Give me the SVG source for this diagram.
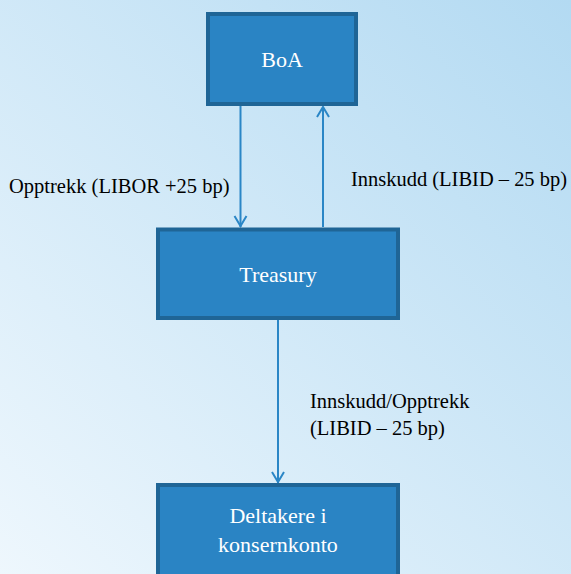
<svg xmlns="http://www.w3.org/2000/svg" width="571" height="574" viewBox="0 0 571 574">
<defs>
<linearGradient id="bg" x1="0" y1="1" x2="1" y2="0">
<stop offset="0" stop-color="#eef7fd"/>
<stop offset="1" stop-color="#b3daf2"/>
</linearGradient>
<style>
.box{fill:#2a84c4;stroke:#1f6596;stroke-width:4}
.nt{fill:#fff;text-anchor:middle;font-size:22px}
.lb{fill:#000;font-size:20.5px}
text{font-family:'Liberation Serif','Times New Roman',Times,serif}
.ln{stroke:#2a86c6;stroke-width:2;fill:none}
.ah{stroke:#2a86c6;stroke-width:2;fill:none}
</style>
</defs>
<rect width="571" height="574" fill="url(#bg)"/>
<g id="connectors">
<line class="ln" x1="240.5" y1="106" x2="240.5" y2="227"/>
<path class="ah" d="M234.5,216 L240.5,226 L246.5,216"/>
<line class="ln" x1="323" y1="227" x2="323" y2="107"/>
<path class="ah" d="M317,117 L323,107 L329,117"/>
<line class="ln" x1="278" y1="320" x2="278" y2="483"/>
<path class="ah" d="M272,472 L278,482 L284,472"/>
</g>
<g id="boa">
<rect class="box" x="208" y="14" width="148" height="90"/>
<text class="nt" x="282" y="67" font-size="26">BoA</text>
</g>
<g id="treasury">
<rect class="box" x="158" y="229.5" width="240" height="88.5"/>
<text class="nt" x="278" y="282">Treasury</text>
</g>
<g id="deltakere">
<rect class="box" x="158" y="485" width="240" height="100"/>
<text class="nt" x="278" y="523">Deltakere i</text>
<text class="nt" x="278" y="552">konsernkonto</text>
</g>
<g id="labels">
<text class="lb" x="9" y="193">Opptrekk (LIBOR +25 bp)</text>
<text class="lb" x="351" y="186" textLength="216" lengthAdjust="spacingAndGlyphs">Innskudd (LIBID – 25 bp)</text>
<text class="lb" x="310" y="408">Innskudd/Opptrekk</text>
<text class="lb" x="310" y="435">(LIBID – 25 bp)</text>
</g>
</svg>
